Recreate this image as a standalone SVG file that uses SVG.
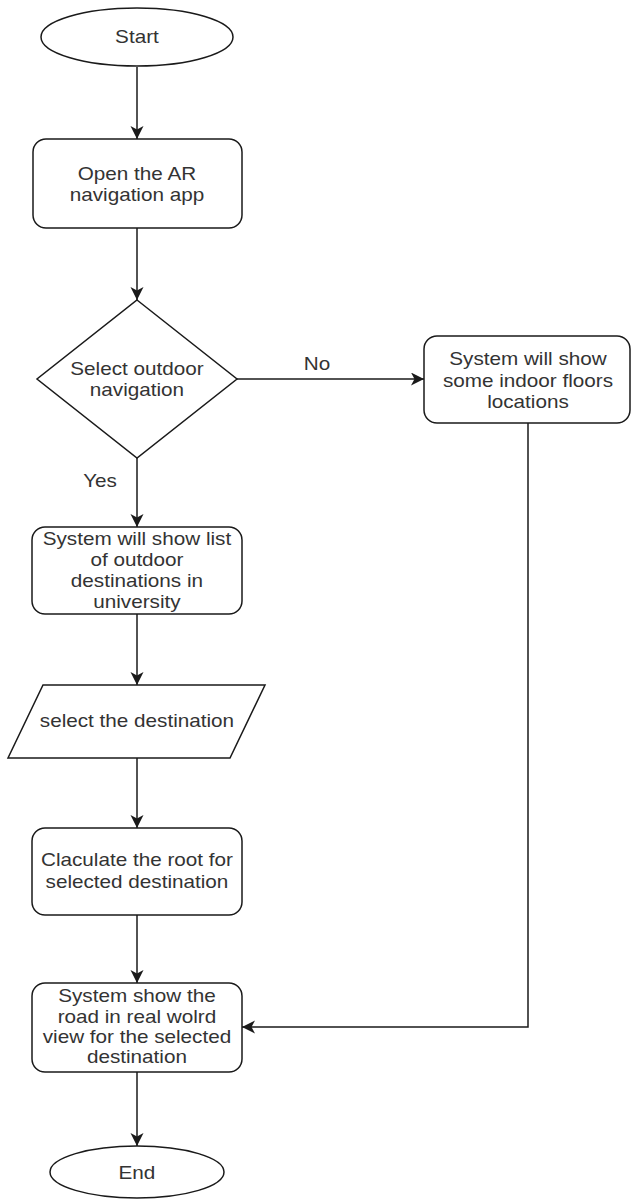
<svg xmlns="http://www.w3.org/2000/svg" width="631" height="1200" viewBox="0 0 631 1200">
<style>
.shape{fill:#ffffff;stroke:#1a1a1a;stroke-width:1.5}
.edge{fill:none;stroke:#1a1a1a;stroke-width:1.5}
.t{font-family:"Liberation Sans",Arial,sans-serif;font-size:18px;fill:#333333;text-anchor:middle}
</style>
<defs>
<marker id="arr" markerWidth="14" markerHeight="14" refX="13" refY="6.5" orient="auto" markerUnits="userSpaceOnUse">
<path d="M0,0 L13,6.5 L0,13 L3.5,6.5 z" fill="#1a1a1a"/>
</marker>
</defs>
<rect width="631" height="1200" fill="#ffffff"/>
<g id="connectors">
<line class="edge" x1="137" y1="67" x2="137" y2="139" marker-end="url(#arr)"/>
<line class="edge" x1="137" y1="228" x2="137" y2="300" marker-end="url(#arr)"/>
<line class="edge" x1="137" y1="458" x2="137" y2="527" marker-end="url(#arr)"/>
<line class="edge" x1="237" y1="379" x2="424" y2="379" marker-end="url(#arr)"/>
<line class="edge" x1="137" y1="614" x2="137" y2="685" marker-end="url(#arr)"/>
<line class="edge" x1="137" y1="758" x2="137" y2="828" marker-end="url(#arr)"/>
<line class="edge" x1="137" y1="915" x2="137" y2="983" marker-end="url(#arr)"/>
<polyline class="edge" points="528,423 528,1027 242,1027" marker-end="url(#arr)"/>
<line class="edge" x1="137" y1="1072" x2="137" y2="1146" marker-end="url(#arr)"/>
<g transform="scale(1.15,1)">
<text class="t" x="87" y="487">Yes</text>
<text class="t" x="275.7" y="370">No</text>
</g>
</g>
<g id="start">
<ellipse class="shape" cx="137" cy="37" rx="96" ry="29"/>
<text class="t" x="119.1" y="43" transform="scale(1.15,1)">Start</text>
</g>
<g id="open-app">
<rect class="shape" x="33" y="139" width="209" height="89" rx="13"/>
<g transform="scale(1.15,1)">
<text class="t" x="119.1" y="180">Open the AR</text>
<text class="t" x="119.1" y="201">navigation app</text>
</g>
</g>
<g id="decision">
<polygon class="shape" points="137,300 237,379 137,458 37,379"/>
<g transform="scale(1.15,1)">
<text class="t" x="119.1" y="375">Select outdoor</text>
<text class="t" x="119.1" y="396">navigation</text>
</g>
</g>
<g id="indoor">
<rect class="shape" x="424" y="336" width="206" height="87" rx="13"/>
<g transform="scale(1.15,1)">
<text class="t" x="459.1" y="365">System will show</text>
<text class="t" x="459.1" y="387">some indoor floors</text>
<text class="t" x="459.1" y="408">locations</text>
</g>
</g>
<g id="outdoor-list">
<rect class="shape" x="32" y="527" width="210" height="87" rx="13"/>
<g transform="scale(1.15,1)">
<text class="t" x="119.1" y="545">System will show list</text>
<text class="t" x="119.1" y="566">of outdoor</text>
<text class="t" x="119.1" y="587">destinations in</text>
<text class="t" x="119.1" y="608">university</text>
</g>
</g>
<g id="select-dest">
<polygon class="shape" points="43,685 265,685 230,758 8,758"/>
<text class="t" x="119.1" y="727" transform="scale(1.15,1)">select the destination</text>
</g>
<g id="calculate">
<rect class="shape" x="32" y="828" width="210" height="87" rx="13"/>
<g transform="scale(1.15,1)">
<text class="t" x="119.1" y="866">Claculate the root for</text>
<text class="t" x="119.1" y="888">selected destination</text>
</g>
</g>
<g id="show-road">
<rect class="shape" x="32" y="983" width="210" height="89" rx="13"/>
<g transform="scale(1.15,1)">
<text class="t" x="119.1" y="1002">System show the</text>
<text class="t" x="119.1" y="1022.5">road in real wolrd</text>
<text class="t" x="119.1" y="1043">view for the selected</text>
<text class="t" x="119.1" y="1063.5">destination</text>
</g>
</g>
<g id="end">
<ellipse class="shape" cx="137" cy="1172" rx="87" ry="26"/>
<text class="t" x="119.1" y="1179" transform="scale(1.15,1)">End</text>
</g>
</svg>
